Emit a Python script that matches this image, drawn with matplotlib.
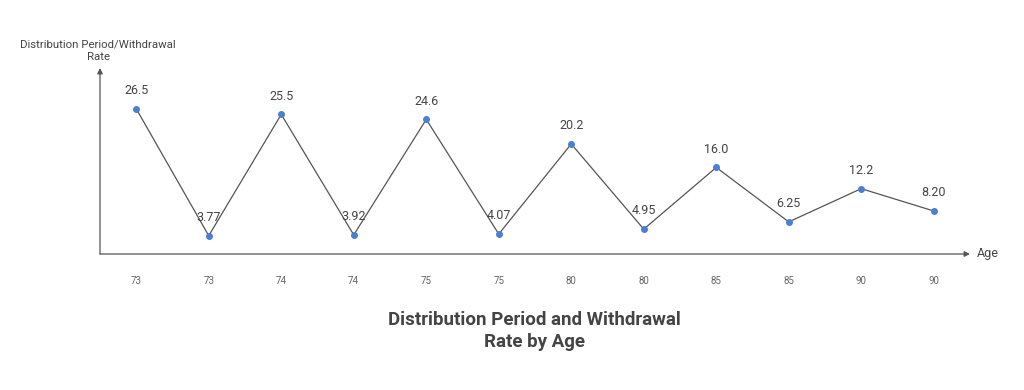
import matplotlib
matplotlib.use("Agg")
import matplotlib.pyplot as plt

plt.rcParams['font.family'] = ['Roboto', 'DejaVu Sans']

ages = ["73", "73", "74", "74", "75", "75", "80", "80", "85", "85", "90", "90"]
values = [26.5, 3.77, 25.5, 3.92, 24.6, 4.07, 20.2, 4.95, 16.0, 6.25, 12.2, 8.20]
labels = ["26.5", "3.77", "25.5", "3.92", "24.6", "4.07", "20.2", "4.95", "16.0", "6.25", "12.2", "8.20"]

fig = plt.figure(figsize=(10.24, 3.9), dpi=100)
ax = fig.add_axes([100/1024, 1-254/390, 870/1024, (254-68)/390])
x = list(range(len(values)))
ax.plot(x, values, color='#555555', lw=0.9, zorder=2)
ax.scatter(x, values, s=16, color='#4a7fd4', zorder=3)
for xi, v, t in zip(x, values, labels):
    ax.annotate(t, (xi, v), xytext=(0, 8.5), textcoords='offset points',
                ha='center', va='bottom', fontsize=9, color='#444444')
ax.set_xlim(-0.5, 11.5)
ax.set_ylim(0.5, 33.8)
for s in ax.spines.values():
    s.set_visible(False)
ax.set_yticks([])
ax.set_xticks(x)
ax.set_xticklabels(ages, fontsize=7, color='#666666')
ax.tick_params(axis='x', length=0, pad=16)
# axes arrows
ax.annotate('', xy=(1.0, 0), xytext=(0, 0), xycoords='axes fraction',
            arrowprops=dict(arrowstyle='-|>', color='#555555', lw=0.9,
                            mutation_scale=8, shrinkA=0, shrinkB=0))
ax.annotate('', xy=(0, 1.0), xytext=(0, 0), xycoords='axes fraction',
            arrowprops=dict(arrowstyle='-|>', color='#555555', lw=0.9,
                            mutation_scale=8, shrinkA=0, shrinkB=0))
fig.text(977/1024, 1-254/390, 'Age', ha='left', va='center', fontsize=9, color='#444444')
fig.text(98/1024, 1-51/390, 'Distribution Period/Withdrawal\nRate', ha='center', va='center',
         fontsize=8.2, color='#444444', linespacing=1.3)
fig.text(534/1024, 1-331/390, 'Distribution Period and Withdrawal\nRate by Age', ha='center',
         va='center', fontsize=13.5, fontweight='bold', color='#444444', linespacing=1.25)
fig.savefig('out.png', dpi=100)
